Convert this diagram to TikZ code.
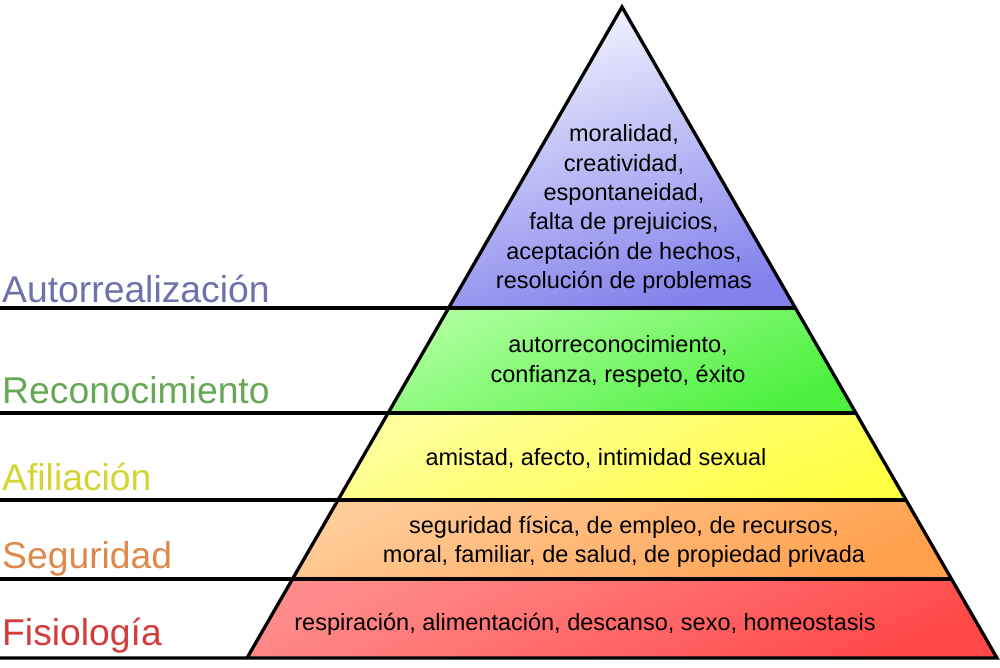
\documentclass[tikz,border=0pt]{standalone}
\usepackage{fontspec}
\setmainfont{Liberation Sans}
\usetikzlibrary{calc}

\definecolor{pvTop}{HTML}{F4F4FF}
\definecolor{pvBot}{HTML}{8282EC}
\definecolor{grTop}{HTML}{ACFF9C}
\definecolor{grBot}{HTML}{4CF03E}
\definecolor{yeTop}{HTML}{FFFF9C}
\definecolor{yeBot}{HTML}{FFFF44}
\definecolor{orTop}{HTML}{FFCB98}
\definecolor{orBot}{HTML}{FFA04C}
\definecolor{reTop}{HTML}{FF8C8C}
\definecolor{reBot}{HTML}{FF4848}
\definecolor{lbPv}{HTML}{7070AA}
\definecolor{lbGr}{HTML}{66A856}
\definecolor{lbYe}{HTML}{D4D432}
\definecolor{lbOr}{HTML}{E0884A}
\definecolor{lbRe}{HTML}{D43C3C}

\begin{document}
\begin{tikzpicture}[x=1pt,y=1pt,
    sep/.style={line width=3.3pt},
    lbl/.style={anchor=base west,inner sep=0pt,font=\fontsize{37.3}{40}\selectfont},
    txt/.style={inner sep=0pt,align=center,font=\fontsize{23.5}{29.3}\selectfont}]
    \useasboundingbox (0,0) rectangle (1000,667);

    % Corners
    \coordinate (o) at (0,0);
    \coordinate (top) at (622,660);
    \coordinate (bl) at (247,9);
    \coordinate (br) at (997,9);

    % Level edges
    \coordinate (l1) at ($(top)!0.4624!(bl)$);
    \coordinate (r1) at ($(top)!0.4624!(br)$);
    \coordinate (l2) at ($(top)!0.6237!(bl)$);
    \coordinate (r2) at ($(top)!0.6237!(br)$);
    \coordinate (l3) at ($(top)!0.7573!(bl)$);
    \coordinate (r3) at ($(top)!0.7573!(br)$);
    \coordinate (l4) at ($(top)!0.8787!(bl)$);
    \coordinate (r4) at ($(top)!0.8787!(br)$);

    % Fills
    \shade[top color=pvTop,bottom color=pvBot,shading angle=15] (top) -- (r1) -- (l1) -- cycle;
    \shade[top color=grTop,bottom color=grBot,shading angle=25] (l1) -- (r1) -- (r2) -- (l2) -- cycle;
    \shade[top color=yeTop,bottom color=yeBot,shading angle=25] (l2) -- (r2) -- (r3) -- (l3) -- cycle;
    \shade[top color=orTop,bottom color=orBot,shading angle=25] (l3) -- (r3) -- (r4) -- (l4) -- cycle;
    \shade[top color=reTop,bottom color=reBot,shading angle=25] (l4) -- (r4) -- (br) -- (bl) -- cycle;

    % Lines
    \foreach \i in {1,...,4}
        \draw[sep] (l\i -| o) -- (l\i) -- (r\i);
    \draw[sep,line join=miter] (bl -| o) -- (br) -- (top) -- (bl);

    % Names
    \node[lbl,lbPv] (autorr) at (2,364) {Autorrealización};
    \node[lbl,lbGr] (recon) at (2,263) {Reconocimiento};
    \node[lbl,lbYe] (afil) at (2,177) {Afiliación};
    \node[lbl,lbOr] (segur) at (2,99) {Seguridad};
    \node[lbl,lbRe] (fisio) at (2,22) {Fisiología};

    % Needs
    \node[txt] (tautorr) at (624,458) {moralidad,\\creatividad,\\espontaneidad,\\falta de prejuicios,\\aceptación de hechos,\\resolución de problemas};
    \node[txt] (trecon) at (618,305.5) {autorreconocimiento,\\confianza, respeto, éxito};
    \node[txt,anchor=base] (tafil) at (596,202) {amistad, afecto, intimidad sexual};
    \node[txt] (tsegur) at (624,125.5) {seguridad física, de empleo, de recursos,\\moral, familiar, de salud, de propiedad privada};
    \node[txt,anchor=base] (tfisio) at (585,37) {respiración, alimentación, descanso, sexo, homeostasis};
\end{tikzpicture}
\end{document}
